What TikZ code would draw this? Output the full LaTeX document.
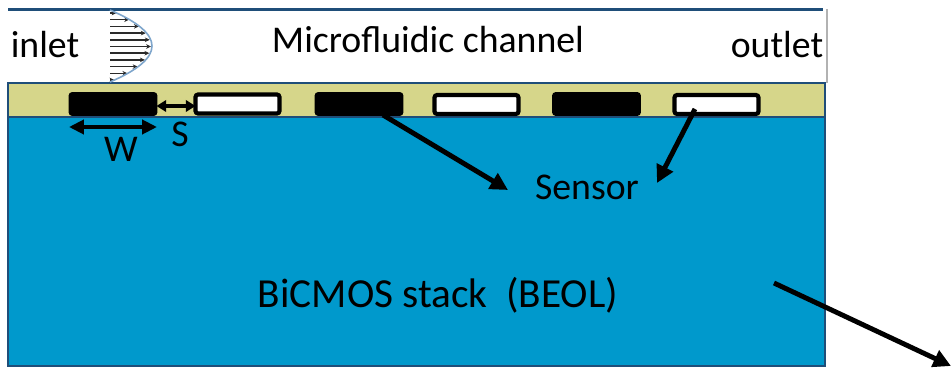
\documentclass[tikz,border=0pt]{standalone}
\usepackage{fontspec}
\setmainfont{Carlito}
\usepackage{tikz}
\usetikzlibrary{arrows.meta,positioning,calc}
\definecolor{StackBlue}{HTML}{0099CC}
\definecolor{EdgeNavy}{HTML}{1F4E79}
\definecolor{PassYellow}{HTML}{D6D68A}
\definecolor{ProfileBlue}{HTML}{7FA6CC}
\definecolor{FlowGray}{HTML}{2A2A2A}

\begin{document}
\begin{tikzpicture}[
  x=0.02cm,y=-0.02cm,
  lbl/.style={font=\fontsize{21.5}{26}\selectfont,inner sep=0pt,anchor=base},
  layer/.style={draw=EdgeNavy,line width=1.7pt},
  blackpad/.style={fill=black,draw=black,line width=1pt,rounded corners=1.5pt,
    minimum width=1.74cm,minimum height=0.44cm,inner sep=0pt,outer sep=0pt},
  whitepad/.style={fill=white,draw=black,line width=2.4pt,rounded corners=1.5pt,
    minimum width=1.68cm,minimum height=0.38cm,inner sep=0pt,outer sep=0pt},
  bigarr/.style={-{Triangle[length=10pt,width=10pt]},line width=2.8pt,draw=black},
  dimarr/.style={{Triangle[length=8.5pt,width=8pt]}-{Triangle[length=8.5pt,width=8pt]},
    line width=2.4pt,draw=black},
  flowarr/.style={-{Stealth[length=2.8pt,width=2.6pt]},line width=0.85pt,draw=FlowGray}
]
\useasboundingbox (0,0) rectangle (951,368);

% channel and stack
\draw[draw=EdgeNavy,line width=1.7pt] (8,9.5) -- (823,9.5);
\draw[draw=gray!60,line width=0.6pt] (827,9.5) -- (827,83);
\draw[layer,fill=StackBlue] (8,117) rectangle (825,366);
\draw[layer,fill=PassYellow] (8,83) rectangle (825,117);

% flow profile
\fill[white] (106,11) rectangle (155,81.5);
\foreach \yy in {13,19.7,...,81} {
  \pgfmathsetmacro{\xe}{110+41*(1-((\yy-46)/36)^2)}
  \draw[flowarr] (110,\yy) -- (\xe,\yy);
}
\draw[draw=ProfileBlue,line width=0.9pt] (110,10) .. controls (166,34) and (166,58) .. (110,82);

% electrodes
\node[blackpad] (e1) at (113,104) {};
\node[whitepad] (e2) at (237.5,104) {};
\node[blackpad] (e3) at (359,104) {};
\node[whitepad] (e4) at (476.5,104.5) {};
\node[blackpad] (e5) at (596.5,104) {};
\node[whitepad] (e6) at (716.5,104.5) {};

% dimensions
\coordinate (wL) at (69,127);
\coordinate (wR) at (157,127);
\draw[dimarr] (wL) -- (wR);
\draw[{Triangle[length=5.5pt,width=6.5pt]}-{Triangle[length=5.5pt,width=6.5pt]},line width=1.8pt]
  (e1.east |- 0,106) -- (e2.west |- 0,106);
\node[lbl] (W) at (121,162) {W};
\node[lbl] (S) at (180,147) {S};

% labels
\node[lbl] (inlet) at (45,58) {inlet};
\node[lbl] (chan) at (428,53) {Microfluidic channel};
\node[lbl] (outlet) at (777,58) {outlet};
\node[lbl] (sensor) at (587,199) {Sensor};
\node[lbl,font=\fontsize{23.5}{28}\selectfont] (beol) at (438,307) {BiCMOS stack\ \ (BEOL)};

% sensor arrows
\coordinate (fromA) at (383,115);
\coordinate (tipA) at (508,190);
\coordinate (fromB) at (695,109);
\coordinate (tipB) at (657,183);
\draw[bigarr] (fromA) -- (tipA);
\draw[bigarr] (fromB) -- (tipB);

% outgoing arrow
\coordinate (beolTail) at (774,283);
\coordinate (beolTip) at (951,366);
\draw[bigarr] (beolTail) -- (beolTip);
\end{tikzpicture}
\end{document}
